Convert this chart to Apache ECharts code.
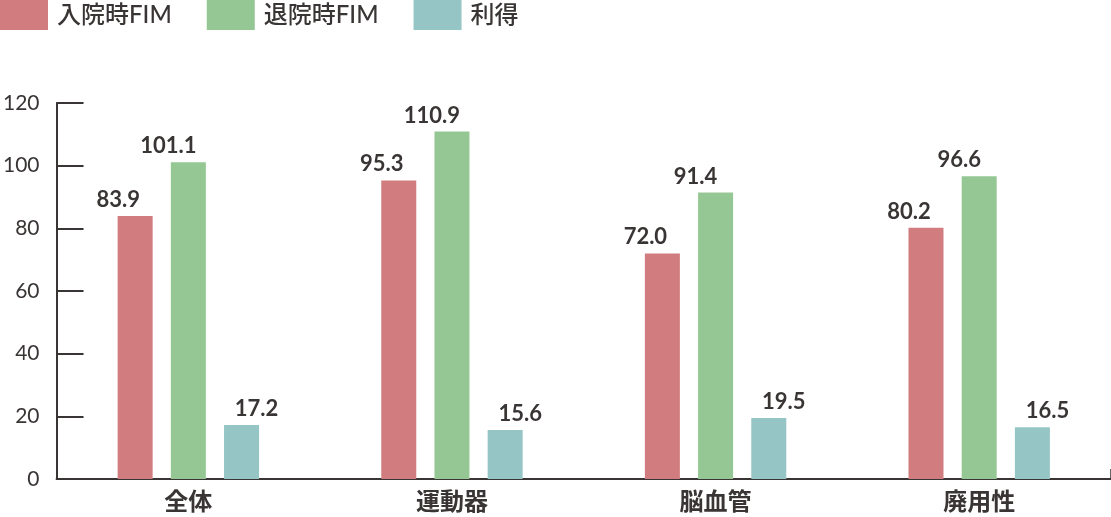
<!DOCTYPE html>
<html>
<head>
<meta charset="utf-8">
<script src="https://cdn.jsdelivr.net/npm/echarts@6/dist/echarts.min.js"></script>
<style>
    html, body { margin: 0; padding: 0; background: #fff; }
    #chart { width: 1111px; height: 517px; }
</style>
</head>
<body>
<div id="chart"></div>
<script>
    var categories = ['全体', '運動器', '脳血管', '廃用性'];
    var admission = [83.9, 95.3, 72.0, 80.2];
    var discharge = [101.1, 110.9, 91.4, 96.6];
    var gain = [17.2, 15.6, 19.5, 16.5];
    var seriesNames = ['入院時FIM', '退院時FIM', '利得'];

    var font = 'Lato, "Noto Sans CJK JP", sans-serif';
    var dark = '#3a3535';

    var chart = echarts.init(document.getElementById('chart'));

    function valueLabel(dx) {
        return {
            show: true,
            position: 'top',
            distance: 5,
            offset: [dx, 0],
            color: dark,
            fontFamily: font,
            fontWeight: 'bold',
            fontSize: 22,
            formatter: function (p) { return p.value.toFixed(1); }
        };
    }

    var option = {
        animation: false,
        legend: {
            left: 0,
            top: 0,
            padding: 0,
            itemWidth: 48,
            itemHeight: 30,
            itemGap: 35,
            icon: 'rect',
            data: seriesNames,
            textStyle: {
                fontFamily: font,
                fontSize: 24,
                fontWeight: 500,
                color: dark,
                padding: [0, 0, 0, 4]
            }
        },
        grid: {
            left: 50,
            right: 0,
            top: 103,
            bottom: 38
        },
        xAxis: {
            type: 'category',
            data: categories,
            axisLine: { lineStyle: { color: dark, width: 2 } },
            axisTick: {
                show: true,
                inside: true,
                length: 10,
                interval: function (index) { return index === 1; },
                lineStyle: { color: dark, width: 1.5 }
            },
            axisLabel: {
                margin: 11,
                color: dark,
                fontFamily: font,
                fontWeight: 'bold',
                fontSize: 24
            }
        },
        yAxis: {
            type: 'value',
            min: 0,
            max: 120,
            interval: 20,
            axisLine: { show: true, lineStyle: { color: dark, width: 2 } },
            axisTick: {
                show: true,
                inside: true,
                length: 27,
                lineStyle: { color: dark, width: 2 }
            },
            splitLine: { show: false },
            axisLabel: {
                margin: 17,
                color: dark,
                fontFamily: font,
                fontSize: 21
            }
        },
        series: [
            {
                name: seriesNames[0],
                type: 'bar',
                barWidth: 35,
                barGap: '52%',
                itemStyle: { color: '#d17c7f' },
                label: valueLabel(-17),
                data: admission
            },
            {
                name: seriesNames[1],
                type: 'bar',
                barWidth: 35,
                barGap: '52%',
                itemStyle: { color: '#95c795' },
                label: valueLabel(-20),
                data: discharge
            },
            {
                name: seriesNames[2],
                type: 'bar',
                barWidth: 35,
                barGap: '52%',
                itemStyle: { color: '#95c5c4' },
                label: valueLabel(15),
                data: gain
            }
        ]
    };

    chart.setOption(option);
</script>
</body>
</html>
